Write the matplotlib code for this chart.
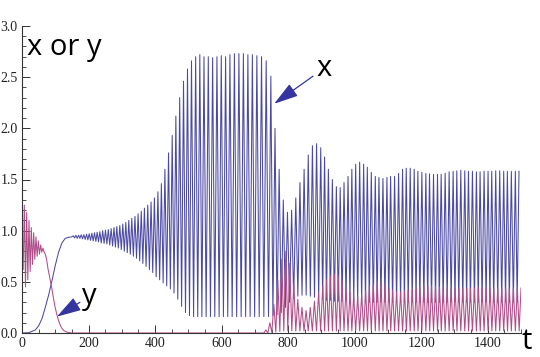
import numpy as np
import matplotlib
matplotlib.use('Agg')
import matplotlib.pyplot as plt
from matplotlib.ticker import MultipleLocator

# x(t): smooth rise before the oscillations start
x_rise_t = [0, 20, 40, 50, 60, 70, 80, 90, 100, 110, 120, 130, 140, 150]
x_rise_v = [0.0, 0.003, 0.03, 0.07, 0.14, 0.25, 0.37, 0.51, 0.66, 0.79, 0.88, 0.925, 0.935, 0.94]

# x(t): time of each peak, peak height, and the trough that follows it
x_peak_t = [154, 162, 170, 178, 186, 194, 202, 210, 218, 226,
            234, 242.5, 251, 259.5, 268, 276.5, 285, 294, 303, 312,
            321, 330, 339.5, 349, 358.5, 368, 378, 388, 398, 408.5,
            419, 429.5, 440.5, 451.5, 462.5, 474, 485.5, 497.5, 509.5, 522,
            534.5, 547, 560, 573, 586, 599, 612, 625, 638.5, 652,
            665.5, 679, 692.5, 706, 720, 734, 748, 760.5, 773, 785.5,
            798, 810.5, 823, 835.5, 848, 860.5, 873, 885.5, 898, 909.5,
            921, 933, 945, 956.5, 968, 980, 991.5, 1003, 1015, 1027,
            1038, 1050, 1062, 1073, 1085, 1097, 1108, 1120, 1132, 1144,
            1155, 1167, 1179, 1190, 1202, 1214, 1225, 1237, 1249, 1260,
            1272, 1284, 1296, 1307, 1319, 1331, 1342, 1354, 1366, 1377,
            1389, 1401, 1412, 1424, 1436, 1448, 1459, 1471, 1483, 1494]
x_peak_v = [0.95, 0.955, 0.955, 0.96, 0.96, 0.965, 0.97, 0.975, 0.98, 0.985,
            0.99, 1.0, 1.005, 1.01, 1.02, 1.03, 1.04, 1.05, 1.065, 1.08,
            1.1, 1.12, 1.14, 1.165, 1.19, 1.22, 1.25, 1.28, 1.32, 1.38,
            1.46, 1.6, 1.76, 1.93, 2.12, 2.3, 2.46, 2.58, 2.66, 2.7,
            2.72, 2.7, 2.7, 2.69, 2.7, 2.71, 2.7, 2.72, 2.73, 2.73,
            2.73, 2.72, 2.72, 2.71, 2.7, 2.66, 2.51, 2.0, 1.6, 1.3,
            1.18, 1.2, 1.32, 1.47, 1.6, 1.74, 1.83, 1.85, 1.81, 1.72,
            1.6, 1.5, 1.43, 1.42, 1.47, 1.53, 1.6, 1.65, 1.67, 1.65,
            1.62, 1.57, 1.53, 1.52, 1.51, 1.52, 1.53, 1.53, 1.56, 1.6,
            1.61, 1.61, 1.6, 1.58, 1.57, 1.56, 1.555, 1.55, 1.55, 1.55,
            1.56, 1.575, 1.58, 1.585, 1.59, 1.585, 1.58, 1.58, 1.575, 1.575,
            1.58, 1.58, 1.58, 1.585, 1.585, 1.58, 1.58, 1.58, 1.58, 1.58]
x_trough_v = [0.93, 0.925, 0.925, 0.92, 0.915, 0.91, 0.905, 0.9, 0.895, 0.89,
              0.88, 0.875, 0.87, 0.86, 0.85, 0.84, 0.83, 0.815, 0.8, 0.785,
              0.77, 0.75, 0.73, 0.705, 0.68, 0.65, 0.62, 0.59, 0.55, 0.52,
              0.49, 0.46, 0.43, 0.39, 0.33, 0.26, 0.2, 0.17, 0.16, 0.16,
              0.16, 0.16, 0.16, 0.16, 0.16, 0.16, 0.16, 0.16, 0.16, 0.16,
              0.16, 0.16, 0.16, 0.16, 0.16, 0.16, 0.17, 0.18, 0.2, 0.25,
              0.3, 0.34, 0.36, 0.37, 0.37, 0.36, 0.35, 0.34, 0.33, 0.32,
              0.32, 0.31, 0.31, 0.31, 0.31, 0.31, 0.3, 0.3, 0.3, 0.3,
              0.3, 0.3, 0.3, 0.3, 0.3, 0.3, 0.3, 0.3, 0.3, 0.3,
              0.3, 0.3, 0.3, 0.3, 0.3, 0.3, 0.3, 0.3, 0.3, 0.3,
              0.3, 0.3, 0.3, 0.3, 0.3, 0.3, 0.3, 0.3, 0.3, 0.3,
              0.3, 0.3, 0.3, 0.3, 0.3, 0.3, 0.3, 0.3, 0.3, 0.3]

# y(t): damped start and decay to zero
y_early_t = [0, 3.5, 7, 10.5, 14, 17.5, 21, 24.5, 28, 31.5,
             35, 38.5, 42, 45.5, 49, 52.5, 56, 59.5, 63, 66.5,
             70, 74, 78, 84, 89, 94, 99, 104, 109, 114,
             119, 125, 135, 150, 727]
y_early_v = [0.9, 0.62, 1.25, 0.45, 1.18, 0.52, 1.1, 0.6, 1.03, 0.67,
             0.98, 0.72, 0.94, 0.75, 0.9, 0.77, 0.86, 0.79, 0.83, 0.79,
             0.77, 0.72, 0.63, 0.53, 0.45, 0.35, 0.26, 0.19, 0.13, 0.085,
             0.05, 0.025, 0.008, 0.0, 0.0]

# y(t): peaks after it comes back
y_peak_t = [733, 745, 757, 769, 781, 793, 805, 817, 829, 841.5,
            854, 866.5, 879, 891.5, 904, 915.5, 927, 939, 951, 962,
            974, 986, 997, 1009, 1021, 1033, 1044, 1056, 1068, 1079,
            1091, 1103, 1114, 1126, 1138, 1150, 1161, 1173, 1185, 1196,
            1208, 1220, 1231, 1243, 1255, 1266, 1278, 1290, 1302, 1313,
            1325, 1337, 1348, 1360, 1372, 1383, 1395, 1407, 1418, 1430,
            1442, 1454, 1465, 1477, 1489, 1500]
y_peak_v = [0.03, 0.1, 0.28, 0.52, 0.72, 0.8, 0.68, 0.48, 0.33, 0.25,
            0.22, 0.25, 0.31, 0.39, 0.46, 0.52, 0.56, 0.58, 0.56, 0.51,
            0.45, 0.4, 0.37, 0.36, 0.38, 0.42, 0.46, 0.48, 0.5, 0.49,
            0.47, 0.44, 0.42, 0.4, 0.4, 0.41, 0.42, 0.43, 0.44, 0.45,
            0.46, 0.46, 0.46, 0.46, 0.45, 0.445, 0.44, 0.44, 0.44, 0.44,
            0.44, 0.435, 0.44, 0.44, 0.445, 0.44, 0.44, 0.44, 0.435, 0.44,
            0.44, 0.44, 0.44, 0.44, 0.44, 0.44]
y_trough_v = [0.0, 0.005, 0.01, 0.015, 0.02, 0.02, 0.02, 0.02, 0.02, 0.02] + [0.02] * 56


def zigzag(pt, pv, tv):
    # peak, then the trough halfway to the next peak
    ts, vs = [], []
    for i in range(len(pt)):
        ts.append(pt[i]); vs.append(pv[i])
        if i + 1 < len(pt):
            ts.append((pt[i] + pt[i + 1]) / 2); vs.append(tv[i])
    return ts, vs


xt, xv = zigzag(x_peak_t, x_peak_v, x_trough_v)
xt = x_rise_t + xt
xv = x_rise_v + xv
yt, yv = zigzag(y_peak_t, y_peak_v, y_trough_v)
yt = y_early_t + yt
yv = y_early_v + yv

fig = plt.figure(figsize=(5.4, 3.57), dpi=100)
ax = fig.add_axes([22 / 540, 24 / 357, 499 / 540, 307 / 357])
ax.plot(xt, xv, color='#4b4aa3', lw=0.75)
ax.plot(yt, yv, color='#b04d88', lw=0.75)

ax.set_xlim(0, 1500)
ax.set_ylim(0, 3.0)
for s in ['top', 'right']:
    ax.spines[s].set_visible(False)
for s in ['left', 'bottom']:
    ax.spines[s].set_color('#333333')
    ax.spines[s].set_linewidth(0.8)
ax.xaxis.set_major_locator(MultipleLocator(200))
ax.xaxis.set_minor_locator(MultipleLocator(50))
ax.yaxis.set_major_locator(MultipleLocator(0.5))
ax.yaxis.set_minor_locator(MultipleLocator(0.1))
ax.yaxis.set_major_formatter(matplotlib.ticker.FormatStrFormatter('%.1f'))
ax.tick_params(which='major', direction='in', length=6, width=0.7, color='#333333', pad=3)
ax.tick_params(which='minor', direction='in', length=3, width=0.6, color='#333333')
for lab in ax.get_xticklabels() + ax.get_yticklabels():
    lab.set_family('Liberation Serif')
    lab.set_fontsize(10)
    lab.set_color('#222222')

fnt = dict(family='Open Sans', fontsize=21, color='black')
fig.text(27 / 540, (357 - 55) / 357, 'x or y', **fnt)
fig.text(521 / 540, (357 - 349) / 357, 't', **fnt)
fig.text(316 / 540, (357 - 76) / 357, 'x', **fnt)
fig.text(82 / 540, (357 - 304) / 357, 'y', **fnt)

arrow = dict(arrowstyle='-|>,head_length=1.0,head_width=0.3', color='#3535a0', lw=0.9,
             mutation_scale=15, shrinkA=0, shrinkB=0)
ax.annotate('', xy=(758, 2.24), xytext=(875, 2.51), arrowprops=arrow, annotation_clip=False)
ax.annotate('', xy=(105, 0.16), xytext=(174, 0.30), arrowprops=arrow, annotation_clip=False)

fig.savefig('out.png', dpi=100)
